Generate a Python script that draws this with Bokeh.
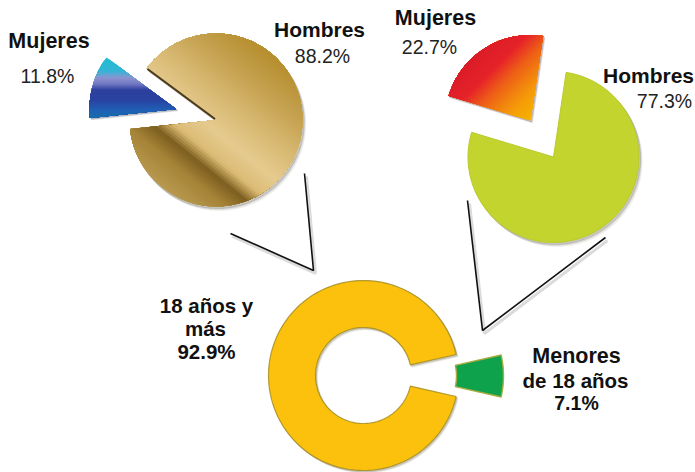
import numpy as np
from bokeh.plotting import figure
from bokeh.embed import file_html
from bokeh.resources import INLINE
from bokeh.core.properties import value

# ---- data ----
pie_a_names = ["Mujeres", "Hombres"]
pie_a_share = [11.8, 88.2]
pie_b_names = ["Mujeres", "Hombres"]
pie_b_share = [22.7, 77.3]
ring_names = ["Menores de 18 años", "18 años y más"]
ring_share = [7.1, 92.9]

# ---- layout (page pixels, y measured downward) ----
W, H = 695, 472
PY = lambda y: H - y
FONT = value("Liberation Sans")

p = figure(width=W, height=H, x_range=(0, W), y_range=(0, H),
           output_backend="svg", toolbar_location=None, min_border=0,
           outline_line_color=None, background_fill_color="white")
p.xaxis.visible = False
p.yaxis.visible = False
p.grid.visible = False


def sector(cx, cy, R, r, a0, a1):
    """Polygon of a pie/ring sector, in page pixels, angles counter-clockwise."""
    n = max(8, int((a1 - a0) / 2))
    ang = np.radians(np.linspace(a0, a1, n))
    xs = cx + R * np.cos(ang)
    ys = cy - R * np.sin(ang)
    if r > 0:
        xs = np.concatenate([xs, cx + r * np.cos(ang[::-1])])
        ys = np.concatenate([ys, cy - r * np.sin(ang[::-1])])
    else:
        xs = np.append(xs, cx)
        ys = np.append(ys, cy)
    return list(zip(xs, ys))


def clip(poly, nx, ny, t):
    out = []
    for i in range(len(poly)):
        a, b = poly[i], poly[(i + 1) % len(poly)]
        ta, tb = a[0] * nx + a[1] * ny - t, b[0] * nx + b[1] * ny - t
        if ta >= 0:
            out.append(a)
        if (ta >= 0) != (tb >= 0):
            f = ta / (ta - tb)
            out.append((a[0] + f * (b[0] - a[0]), a[1] + f * (b[1] - a[1])))
    return out


def hex2rgb(c):
    return np.array([int(c[i:i + 2], 16) for i in (1, 3, 5)], float)


def draw_poly(poly, dx=0, dy=0, **kw):
    p.patch([q[0] + dx for q in poly], [PY(q[1] + dy) for q in poly], **kw)


def shadow(poly, col="#3a3320", dx=1.6, dy=2.0):
    for k, alpha in ((4.0, 0.05), (3.0, 0.08), (2.0, 0.16)):
        draw_poly(poly, dx * k / 2, dy * k / 2, fill_color=col, fill_alpha=alpha, line_color=col,
                  line_alpha=alpha, line_width=1)


def gradient(poly, origin, normal, stops, layers=70):
    """Paint poly with a linear gradient: later layers cover what is beyond them."""
    nx, ny = normal
    ln = (nx * nx + ny * ny) ** .5
    nx, ny = nx / ln, ny / ln
    base = origin[0] * nx + origin[1] * ny
    ts = [s[0] for s in stops]
    cols = np.array([hex2rgb(s[1]) for s in stops])
    grid = np.linspace(ts[0], ts[-1], layers)
    xs, ys, fc = [], [], []
    for i, t in enumerate(grid):
        q = poly if i == 0 else clip(poly, nx, ny, base + t)
        if len(q) < 3:
            continue
        rgb = [int(np.interp(t, ts, cols[:, k])) for k in range(3)]
        xs.append([a[0] for a in q])
        ys.append([PY(a[1]) for a in q])
        fc.append("#%02x%02x%02x" % tuple(rgb))
    p.patches(xs, ys, fill_color=fc, line_color=None)


# ---- connector lines ----
for xs, ys in (([304, 313, 230], [173, 270, 233]), ([467, 482, 605], [200, 330, 237])):
    p.line([x + 2 for x in xs], [PY(y + 3) for y in ys], line_color="#999999", line_alpha=0.35, line_width=3)
    p.line(xs, [PY(y) for y in ys], line_color="#111111", line_width=1.6)

# ---- top-left pie ----
cxA, cyA, RA = 215.5, 119.5, 86.5
start = 143.5
sweep = pie_a_share[0] * 3.6
poly = sector(cxA, cyA, RA, 0, start + sweep, start + 360)
shadow(poly)
gradient(poly, (cxA, cyA), (0.63, -0.78),
         [(-88, "#b89a50"), (-62, "#a58438"), (-45, "#7d5f20"), (-39, "#a98a45"), (-31, "#dcbc76"),
          (-10, "#e6cb8f"), (20, "#d8b972"), (50, "#c6a352"), (88, "#b68d2c")])
# dark thickness visible along the upper edge of the cut
ang = np.radians(start)
p.line([cxA - 1, cxA - 1 + 84 * np.cos(ang)], [PY(cyA - 1), PY(cyA - 1 - 84 * np.sin(ang))],
       line_color="#4a3a1a", line_width=2)
sl = sector(cxA - 40, cyA - 11, RA, 0, start, start + sweep)
shadow(sl, "#20304a", 1.0, 1.0)
gradient(sl, (0, 0), (0, 1),
         [(58, "#22bdd2"), (70, "#34b6d6"), (77, "#8d93d0"), (83, "#7479c4"), (89, "#2e419e"), (99, "#2a43a2"),
          (109, "#2060b6"), (118, "#1670a6")])

# ---- top-right pie ----
cxB, cyB, RB = 553, 156.5, 85.5
start = 81.5
sweep = pie_b_share[0] * 3.6
poly = sector(cxB, cyB, RB, 0, start + sweep, start + 360)
shadow(poly)
draw_poly(poly, fill_color="#c3d42f", line_color="#b9ca2c", line_width=1)
sl = sector(cxB - 23, cyB - 36.5, RB, 0, start, start + sweep)
shadow(sl, "#50201a", 1.0, 1.2)
gradient(sl, (cxB - 23, cyB - 36.5), (-0.7, -0.7),
         [(0, "#f6b400"), (20, "#f59a0a"), (45, "#ee5f18"), (62, "#e6232a"), (90, "#d81c28")])

# ---- ring ----
cxR, cyR, RR, rR = 363, 375, 95, 48
half = ring_share[0] * 3.6 / 2
poly = sector(cxR, cyR, RR, rR, half, 360 - half)
shadow(poly, "#5a5020", 1.0, 1.2)
draw_poly(poly, fill_color="#fbc10d", line_color="#a08a20", line_alpha=0.8, line_width=1.2)
sl = sector(cxR + 45, cyR + 0.5, RR, rR, -half, half)
draw_poly(sl, fill_color="#0fa24c", line_color="#a7ad3c", line_width=1.4)

# ---- labels ----
bold = dict(text_font=FONT, text_font_style="bold", text_color="#111111", text_align="center",
            text_baseline="alphabetic")
norm = dict(text_font=FONT, text_color="#222222", text_align="center", text_baseline="alphabetic")
fmt = lambda v: f"{v:.1f}%"
TEXT_LIFT = 7.5


def label(x, y, txt, size, style):
    p.text([x], [PY(y - TEXT_LIFT)], text=[txt], text_font_size=f"{size}px", **style)


label(48.5, 48, pie_a_names[0], 21.5, bold)
label(47, 83, fmt(pie_a_share[0]), 19.5, norm)
label(319, 36, pie_a_names[1], 21, bold)
label(322, 63, fmt(pie_a_share[1]), 19.5, norm)
label(435, 25, pie_b_names[0], 21.5, bold)
label(429, 54, fmt(pie_b_share[0]), 19.5, norm)
label(648, 82, pie_b_names[1], 21, bold)
label(664, 108, fmt(pie_b_share[1]), 19.5, norm)
label(206, 312, "18 años y", 20.5, bold)
label(205, 335, "más", 20.5, bold)
label(206, 358, fmt(ring_share[1]), 20.5, bold)
label(576, 363, "Menores", 21.5, bold)
label(575, 387, "de 18 años", 20.5, bold)
label(576, 410, fmt(ring_share[0]), 19.5, bold)

open("out.html", "w").write(file_html(p, INLINE))
